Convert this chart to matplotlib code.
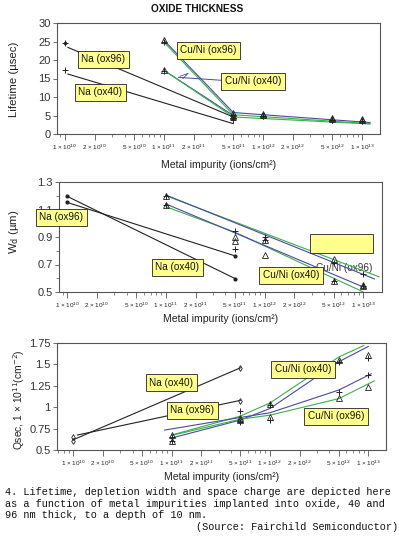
import matplotlib
matplotlib.use("Agg")
import matplotlib.pyplot as plt
from matplotlib.ticker import FixedLocator, LogLocator, NullFormatter

# ---- data ----
x_na = [1e10, 5e11]
x_cu = [1e11, 5e11, 1e12, 5e12, 1e13]

# lifetime (usec)
life_na96 = [24.5, 4.4]
life_na40 = [17.3, 3.8]
life_cu96_tri = [25.3, 5.6, 5.4, 4.3, 4.0]
life_cu96_plus = [25.0, 5.2, 5.0, 3.9, 3.5]
life_cu40_tri = [17.3, 5.0, 5.2, 4.0, 3.7]
life_cu40_plus = [17.0, 4.2, 4.9, 3.7, 3.4]
fit_life_na96 = ([1.07e10, 5e11], [23.4, 4.6])
fit_life_na40 = ([1.07e10, 5e11], [16.2, 2.8])
fit_life_cu96_blue = ([1e11, 5e11, 1.2e13], [25.3, 5.8, 3.1])
fit_life_cu96_green = ([1e11, 5e11, 1.2e13], [24.8, 5.2, 2.8])
fit_life_cu40_blue = ([1.05e11, 5e11], [16.8, 5.0])
fit_life_cu40_green = ([1e11, 5e11, 1.2e13], [17.2, 4.6, 2.7])

# depletion width (um)
wd_na40 = [1.195, 0.598]
wd_na96 = [1.151, 0.763]
wd_cu96_tri = [1.20, 0.90, 0.77, 0.74, 0.55]
wd_cu96_plus = [1.20, 0.94, 0.90, 0.71, 0.63]
wd_cu40_tri = [1.13, 0.87, 0.88, 0.58, 0.54]
wd_cu40_plus = [1.13, 0.81, 0.88, 0.58, 0.54]
fit_wd_green_a = ([1e11, 1.45e13], [1.20, 0.61])
fit_wd_blue_a = ([1e11, 1.3e13], [1.205, 0.595])
fit_wd_green_b = ([1e11, 5e11, 1e13], [1.12, 0.935, 0.50])
fit_wd_blue_b = ([1e11, 5e11, 1.05e13], [1.14, 0.93, 0.53])

# space charge (1e11 cm-2)
q_na40 = [0.60, 1.463]
q_na96 = [0.648, 1.07]
q_cu40_tri = [0.67, 0.87, 1.04, 1.556, 1.606]
q_cu40_plus = [0.65, 0.958, 1.03, 1.53, 1.58]
q_cu96_tri = [0.60, 0.85, 0.88, 1.11, 1.237]
q_cu96_plus = [0.61, 0.83, 0.85, 1.18, 1.373]
fit_q_na40 = ([1e10, 5e11], [0.62, 1.46])
fit_q_na96 = ([1.1e10, 5e11], [0.675, 1.08])
fit_q_cu40_green = ([1e11, 5e11, 1e12, 5e12, 9e12], [0.675, 0.896, 1.05, 1.586, 1.72])
fit_q_cu40_blue = ([1e11, 5e11, 1e12, 5e12, 1e13], [0.64, 0.85, 0.985, 1.53, 1.71])
fit_q_cu96_blue = ([8.5e10, 5e11, 1e12, 5e12, 1.07e13], [0.733, 0.88, 0.935, 1.2, 1.39])
fit_q_cu96_green = ([1e11, 5e11, 1e12, 5e12, 1.15e13], [0.67, 0.86, 0.907, 1.1, 1.307])

xtick_vals = [1e10, 2e10, 5e10, 1e11, 2e11, 5e11, 1e12, 2e12, 5e12, 1e13]
xtick_labels = [r"1 × 10$^{10}$", r"2 × 10$^{10}$", r"5 × 10$^{10}$",
                r"1 × 10$^{11}$", r"2 × 10$^{11}$", r"5 × 10$^{11}$",
                r"1 × 10$^{12}$", r"2 × 10$^{12}$", r"5 × 10$^{12}$",
                r"1 × 10$^{13}$"]

plt.rcParams['font.family'] = ['Liberation Sans', 'DejaVu Sans']

W, H = 399, 538
fig = plt.figure(figsize=(W / 100, H / 100), dpi=100)

BLUE = "#4a4aa0"
GREEN = "#3ab048"
BLACK = "#222222"
YELLOW = "#ffff8c"
SPINE = "#555555"


def px_axes(l, r, t, b):
    return fig.add_axes([l / W, 1 - b / H, (r - l) / W, (b - t) / H])


def style(ax, xlim, ylim, yticks, yticklabels, xlabelpad=3):
    ax.set_xscale("log")
    ax.set_xlim(*xlim)
    ax.set_ylim(*ylim)
    ax.xaxis.set_major_locator(FixedLocator(xtick_vals))
    ax.set_xticklabels(xtick_labels, fontsize=4.6, color="#222")
    ax.xaxis.set_minor_locator(LogLocator(base=10, subs=[3, 4, 6, 7, 8, 9]))
    ax.xaxis.set_minor_formatter(NullFormatter())
    ax.set_yticks(yticks)
    ax.set_yticklabels(yticklabels, fontsize=8, color="#333")
    ax.tick_params(axis="x", which="major", length=4, width=0.6, pad=2, color=SPINE)
    ax.tick_params(axis="x", which="minor", length=2.5, width=0.5, color=SPINE)
    ax.tick_params(axis="y", length=3, width=0.6, pad=1.5, color=SPINE)
    for s in ax.spines.values():
        s.set_color(SPINE)
        s.set_linewidth(0.8)
    ax.set_xlabel("Metal impurity (ions/cm²)", fontsize=7.6, color="#222", labelpad=xlabelpad)


def box(ax, xpx, ypx, txt):
    # label placed by its centre in figure pixels
    ax.text(xpx / W, 1 - ypx / H, txt, transform=fig.transFigure, fontsize=7.2,
            color="#111", ha="center", va="center", zorder=6, clip_on=False,
            bbox=dict(boxstyle="square,pad=0.35", fc=YELLOW, ec="#222", lw=0.6))


def fitline(ax, fit, color, lw=0.8):
    ax.plot(fit[0], fit[1], color=color, lw=lw, zorder=3)


def marks(ax, x, tri, plus):
    ax.plot(x, tri, linestyle="none", marker="^", ms=4, mfc="none", mec="#222", mew=0.6, zorder=4)
    ax.plot(x, plus, linestyle="none", marker="+", ms=4.5, mec="#222", mew=0.7, zorder=4)


fig.text(197 / W, 1 - 9 / H, "OXIDE THICKNESS", ha="center", va="center",
         fontsize=7.3, fontweight="bold", color="#111")

# ---- panel 1: lifetime ----
ax1 = px_axes(57, 380, 23, 134)
style(ax1, (10 ** 9.919, 10 ** 13.18), (0, 30), [0, 5, 10, 15, 20, 25, 30],
      ["0", "5", "10", "15", "20", "25", "30"], xlabelpad=6)
ax1.set_ylabel("Lifetime (µsec)", fontsize=8.2, color="#222")
ax1.yaxis.set_label_coords(-0.118, 0.49)
fitline(ax1, fit_life_na96, BLACK)
fitline(ax1, fit_life_na40, BLACK)
fitline(ax1, fit_life_cu96_blue, BLUE)
fitline(ax1, fit_life_cu96_green, GREEN)
fitline(ax1, fit_life_cu40_blue, BLUE)
fitline(ax1, fit_life_cu40_green, GREEN)
ax1.plot([1.4e11, 3.9e11], [15.3, 14.5], color=BLUE, lw=0.7, zorder=3)
ax1.plot([1.45e11, 1.75e11, 1.55e11], [15.6, 16.4, 15.0], color=BLUE, lw=0.6, zorder=3)
ax1.plot(x_na, life_na96, linestyle="none", marker="+", ms=4, mec="#222", mew=0.7, zorder=4)
ax1.plot(x_na, life_na40, linestyle="none", marker="+", ms=4, mec="#222", mew=0.7, zorder=4)
ax1.plot(x_na, life_na96, linestyle="none", marker="o", ms=1.5, color="#222", zorder=4)
marks(ax1, x_cu, life_cu96_tri, life_cu96_plus)
marks(ax1, x_cu, life_cu40_tri, life_cu40_plus)
box(ax1, 103, 59, "Na (ox96)")
box(ax1, 100, 92, "Na (ox40)")
box(ax1, 208.5, 50, "Cu/Ni (ox96)")
box(ax1, 253, 81, "Cu/Ni (ox40)")

# ---- panel 2: depletion width ----
ax2 = px_axes(59, 382, 182, 292)
style(ax2, (10 ** 9.915, 10 ** 13.19), (0.5, 1.3), [0.5, 0.7, 0.9, 1.1, 1.3],
      ["0.5", "0.7", "0.9", "1.1", "1.3"])
ax2.set_yticks([0.6, 0.8, 1.0, 1.2], minor=True)
ax2.tick_params(axis="y", which="minor", length=2, width=0.5, color=SPINE)
ax2.set_ylabel("W$_{\\mathrm{d}}$ (µm)", fontsize=8.2, color="#222")
ax2.yaxis.set_label_coords(-0.118, 0.55)
ax2.plot(x_na, wd_na40, color=BLACK, lw=0.8, marker="o", ms=2, zorder=3)
ax2.plot(x_na, wd_na96, color=BLACK, lw=0.8, marker="o", ms=2, zorder=3)
ax2.text(344 / W, 1 - 268 / H, "Cu/Ni (ox96)", transform=fig.transFigure, fontsize=7.2,
         color="#333", ha="center", va="center", zorder=2)
fitline(ax2, fit_wd_green_a, GREEN)
fitline(ax2, fit_wd_blue_a, BLUE)
fitline(ax2, fit_wd_green_b, GREEN)
fitline(ax2, fit_wd_blue_b, BLUE)
marks(ax2, x_cu, wd_cu96_tri, wd_cu96_plus)
marks(ax2, x_cu, wd_cu40_tri, wd_cu40_plus)
ax2.add_patch(plt.Rectangle((310 / W, 1 - 253 / H), 63 / W, 19 / H, transform=fig.transFigure,
                            fc=YELLOW, ec="#222", lw=0.6, zorder=5, clip_on=False))
box(ax2, 61, 217.5, "Na (ox96)")
box(ax2, 177, 267, "Na (ox40)")
box(ax2, 291, 275, "Cu/Ni (ox40)")

# ---- panel 3: space charge ----
ax3 = px_axes(57, 386, 343, 450)
style(ax3, (10 ** 9.834, 10 ** 13.18), (0.5, 1.75), [0.5, 0.75, 1.0, 1.25, 1.5, 1.75],
      ["0.5", "0.75", "1", "1.25", "1.5", "1.75"])
ax3.set_ylabel("Qsec, 1 × 10$^{11}$(cm$^{-2}$)", fontsize=7.4, color="#222")
ax3.yaxis.set_label_coords(-0.091, 0.47)
fitline(ax3, fit_q_na40, BLACK)
fitline(ax3, fit_q_na96, BLACK)
ax3.plot(x_na, q_na40, linestyle="none", marker="d", ms=3, mfc="none", mec="#222", mew=0.6, zorder=4)
ax3.plot(x_na, q_na96, linestyle="none", marker="d", ms=3, mfc="none", mec="#222", mew=0.6, zorder=4)
fitline(ax3, fit_q_cu40_green, GREEN)
fitline(ax3, fit_q_cu40_blue, BLUE)
fitline(ax3, fit_q_cu96_blue, BLUE)
fitline(ax3, fit_q_cu96_green, GREEN)
marks(ax3, x_cu, q_cu40_tri, q_cu40_plus)
marks(ax3, x_cu, q_cu96_tri, q_cu96_plus)
box(ax3, 171, 382.5, "Na (ox40)")
box(ax3, 192.5, 410, "Na (ox96)")
box(ax3, 303, 369, "Cu/Ni (ox40)")
box(ax3, 336, 416, "Cu/Ni (ox96)")

# ---- caption ----
cap = ["4. Lifetime, depletion width and space charge are depicted here",
       "as a function of metal impurities implanted into oxide, 40 and",
       "96 nm thick, to a depth of 10 nm."]
for i, line in enumerate(cap):
    fig.text(5 / W, 1 - (492 + 11.7 * i) / H, line, ha="left", va="center",
             fontsize=7.4, family="Liberation Mono", color="#111")
fig.text(398 / W, 1 - 527.5 / H, "(Source: Fairchild Semiconductor)", ha="right", va="center",
         fontsize=7.4, family="Liberation Mono", color="#111")

fig.savefig("out.png", dpi=100)
